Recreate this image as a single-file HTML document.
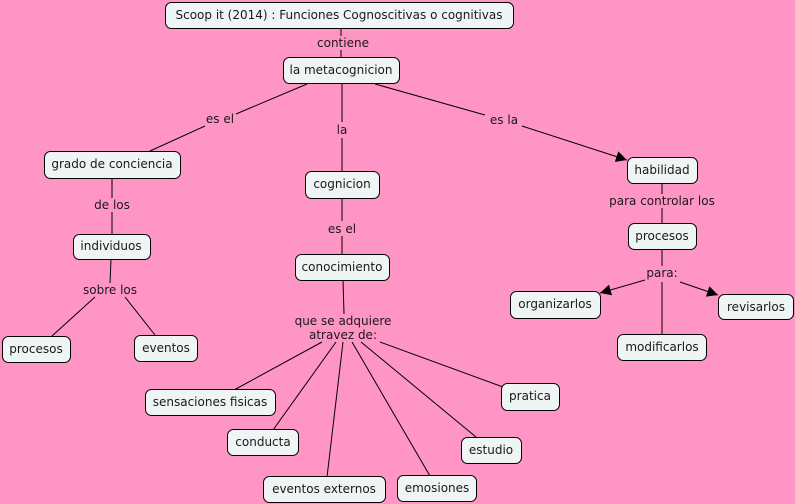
<!DOCTYPE html>
<html><head><meta charset="utf-8"><style>
html,body{margin:0;padding:0;background:#ff95c4;}
svg{display:block}
text{font-family:"DejaVu Sans","Liberation Sans",sans-serif;font-size:12px;fill:#1a1a1a;text-anchor:middle;dominant-baseline:central}
.n{fill:#eff4f5;stroke:#000;stroke-width:1}
line{stroke:#000;stroke-width:1}
</style></head><body>
<svg width="795" height="504" viewBox="0 0 795 504">
<defs><marker id="a" viewBox="0 0 10 10" refX="10" refY="5" markerWidth="11" markerHeight="11" markerUnits="userSpaceOnUse" orient="auto"><path d="M0,0L10,5L0,10z" fill="#000"/></marker></defs>
<g>
<line x1="341" y1="28" x2="341" y2="36"/><line x1="341" y1="50" x2="341" y2="57"/>
<line x1="307" y1="84" x2="236" y2="114"/><line x1="205" y1="126" x2="150" y2="151"/>
<line x1="342" y1="84" x2="342" y2="122"/><line x1="342" y1="138" x2="342" y2="171"/>
<line x1="375" y1="84" x2="485" y2="115"/><line x1="522" y1="126" x2="627" y2="160" marker-end="url(#a)"/>
<line x1="112" y1="178" x2="112" y2="198"/><line x1="112" y1="212" x2="112" y2="234"/>
<line x1="111" y1="259" x2="110" y2="283"/><line x1="95" y1="297" x2="52" y2="336"/><line x1="125" y1="297" x2="155" y2="335"/>
<line x1="342" y1="198" x2="342" y2="221"/><line x1="342" y1="236" x2="342" y2="254"/>
<line x1="343" y1="280" x2="344" y2="314"/>
<line x1="322" y1="342" x2="234" y2="390"/><line x1="336" y1="342" x2="273" y2="430"/>
<line x1="343" y1="342" x2="327" y2="477"/><line x1="352" y1="342" x2="430" y2="476"/>
<line x1="361" y1="342" x2="476" y2="437"/><line x1="380" y1="342" x2="503" y2="387"/>
<line x1="662" y1="183" x2="662" y2="194"/><line x1="662" y1="208" x2="662" y2="223"/>
<line x1="662" y1="249" x2="662" y2="266"/>
<line x1="645" y1="280" x2="600" y2="293" marker-end="url(#a)"/>
<line x1="680" y1="282" x2="718" y2="295" marker-end="url(#a)"/>
<line x1="662" y1="282" x2="662" y2="334"/>
</g>
<g>
<rect class="n" x="165.5" y="2.5" width="348" height="26" rx="6"/><text x="339" y="15">Scoop it (2014) : Funciones Cognoscitivas o cognitivas</text>
<rect class="n" x="283.5" y="57.5" width="116" height="26" rx="6"/><text x="341" y="70">la metacognicion</text>
<rect class="n" x="44.5" y="151.5" width="136" height="27" rx="6"/><text x="112" y="164">grado de conciencia</text>
<rect class="n" x="305.5" y="171.5" width="74" height="27" rx="6"/><text x="342" y="184">cognicion</text>
<rect class="n" x="627.5" y="157.5" width="70" height="26" rx="6"/><text x="662" y="170">habilidad</text>
<rect class="n" x="73.5" y="234.5" width="77" height="25" rx="6"/><text x="111" y="246">individuos</text>
<rect class="n" x="295.5" y="254.5" width="94" height="26" rx="6"/><text x="342" y="267">conocimiento</text>
<rect class="n" x="628.5" y="223.5" width="68" height="26" rx="6"/><text x="662" y="236">procesos</text>
<rect class="n" x="2.5" y="336.5" width="68" height="26" rx="6"/><text x="36" y="349">procesos</text>
<rect class="n" x="134.5" y="335.5" width="63" height="26" rx="6"/><text x="166" y="348">eventos</text>
<rect class="n" x="510.5" y="291.5" width="90" height="27" rx="6"/><text x="555" y="304">organizarlos</text>
<rect class="n" x="718.5" y="294.5" width="75" height="25" rx="6"/><text x="756" y="307">revisarlos</text>
<rect class="n" x="617.5" y="334.5" width="89" height="26" rx="6"/><text x="662" y="347">modificarlos</text>
<rect class="n" x="145.5" y="389.5" width="130" height="26" rx="6"/><text x="210" y="402">sensaciones fisicas</text>
<rect class="n" x="501.5" y="383.5" width="58" height="27" rx="6"/><text x="530" y="396">pratica</text>
<rect class="n" x="227.5" y="429.5" width="71" height="26" rx="6"/><text x="263" y="442">conducta</text>
<rect class="n" x="461.5" y="437.5" width="60" height="26" rx="6"/><text x="491" y="450">estudio</text>
<rect class="n" x="263.5" y="476.5" width="122" height="26" rx="6"/><text x="324" y="489">eventos externos</text>
<rect class="n" x="397.5" y="475.5" width="79" height="26" rx="6"/><text x="437" y="488">emosiones</text>
</g>
<g>
<text x="343" y="43">contiene</text>
<text x="220" y="119">es el</text>
<text x="342" y="130">la</text>
<text x="504" y="120">es la</text>
<text x="112" y="205">de los</text>
<text x="342" y="229">es el</text>
<text x="662" y="201">para controlar los</text>
<text x="110" y="290">sobre los</text>
<text x="343" y="321">que se adquiere</text>
<text x="343" y="335">atravez de:</text>
<text x="662" y="273">para:</text>
</g>
</svg>
</body></html>
